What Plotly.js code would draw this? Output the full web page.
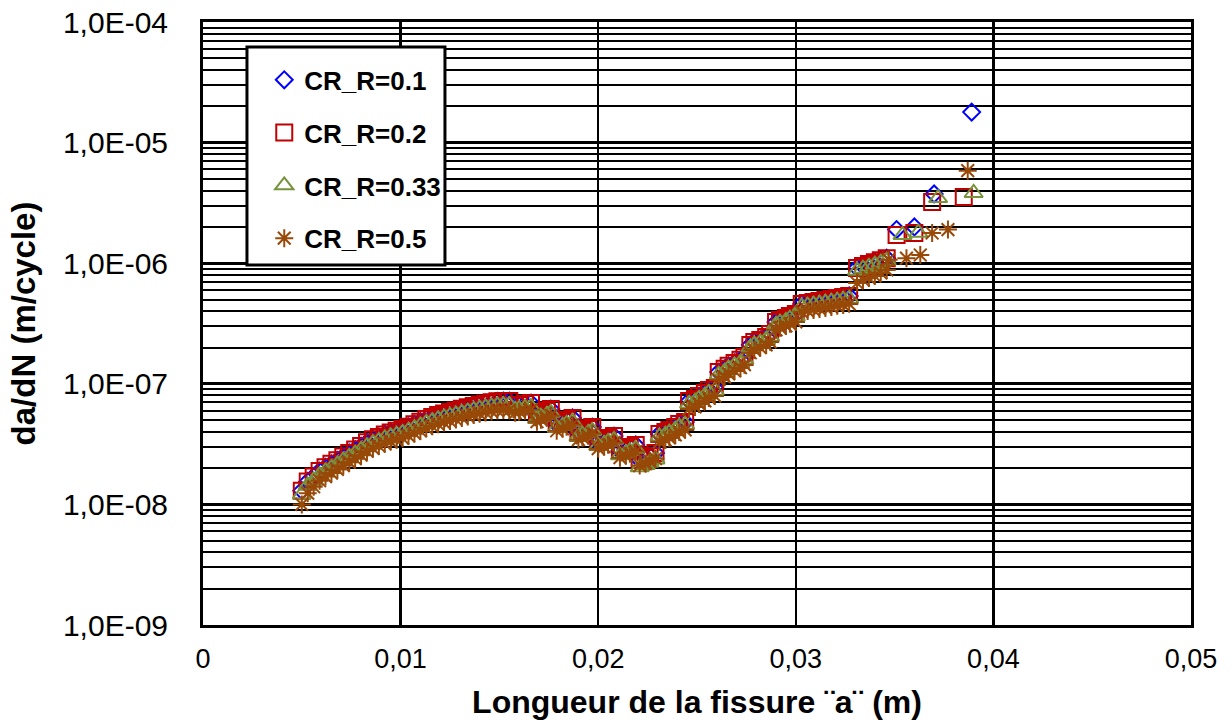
<!DOCTYPE html>
<html>
<head>
<meta charset="utf-8">
<script src="https://cdn.plot.ly/plotly-3.0.1.min.js"></script>
<style>
  html, body { margin: 0; padding: 0; background: #ffffff; }
  #chart { width: 1232px; height: 724px; }
</style>
</head>
<body>
<div id="chart"></div>
<script>
// Crack length a (m) shared by the four load-ratio runs up to a = 0.0346 m
const crackLength = [
  0.0050, 0.0053, 0.0056, 0.0059, 0.0062, 0.0065, 0.0068, 0.0071, 0.0074, 0.0077,
  0.0080, 0.0083, 0.0086, 0.0089, 0.0092, 0.0095, 0.0098, 0.0101, 0.0104, 0.0107,
  0.0110, 0.0113, 0.0116, 0.0119, 0.0122, 0.0125, 0.0128, 0.0131, 0.0134, 0.0137,
  0.0140, 0.0143, 0.0146, 0.0149, 0.0152, 0.0155,
  0.0158, 0.0160, 0.0163, 0.0166, 0.0169, 0.0171, 0.0174, 0.0176,
  0.0179, 0.0182, 0.0184, 0.0187, 0.0190, 0.0192, 0.0195, 0.0197,
  0.0200, 0.0203, 0.0205, 0.0208, 0.0211, 0.0214, 0.0216, 0.0219,
  0.0221, 0.0224, 0.0226, 0.0229,
  0.0231, 0.0234, 0.0236, 0.0239, 0.0241, 0.0244,
  0.0246, 0.0249, 0.0251, 0.0254, 0.0256, 0.0259,
  0.0261, 0.0264, 0.0266, 0.0269, 0.0272, 0.0274,
  0.0277, 0.0279, 0.0282, 0.0285, 0.0287,
  0.0290, 0.0292, 0.0295, 0.0297, 0.0300,
  0.0303, 0.0306, 0.0309, 0.0312, 0.0315, 0.0318, 0.0321, 0.0324, 0.0327,
  0.0331, 0.0334, 0.0337, 0.0340, 0.0343, 0.0346
];

// da/dN (m/cycle) on the shared crack lengths
const dadnR01 = [
  1.30e-8, 1.55e-8, 1.70e-8, 1.89e-8, 2.03e-8, 2.17e-8, 2.32e-8, 2.50e-8, 2.67e-8, 2.85e-8,
  3.05e-8, 3.28e-8, 3.47e-8, 3.63e-8, 3.80e-8, 3.95e-8, 4.08e-8, 4.22e-8, 4.40e-8, 4.62e-8,
  4.85e-8, 5.10e-8, 5.30e-8, 5.50e-8, 5.68e-8, 5.85e-8, 6.02e-8, 6.20e-8, 6.38e-8, 6.55e-8,
  6.72e-8, 6.88e-8, 7.02e-8, 7.15e-8, 7.20e-8, 7.20e-8,
  6.55e-8, 6.67e-8, 6.80e-8, 6.93e-8, 5.51e-8, 5.73e-8, 5.95e-8, 6.18e-8,
  4.64e-8, 4.82e-8, 5.01e-8, 5.21e-8, 3.91e-8, 4.06e-8, 4.22e-8, 4.38e-8,
  3.29e-8, 3.42e-8, 3.55e-8, 3.69e-8, 2.77e-8, 2.88e-8, 2.99e-8, 3.11e-8,
  2.33e-8, 2.42e-8, 2.52e-8, 2.67e-8,
  3.84e-8, 3.98e-8, 4.14e-8, 4.38e-8, 4.64e-8, 4.82e-8,
  7.20e-8, 7.48e-8, 7.92e-8, 8.39e-8, 8.88e-8, 9.23e-8,
  1.25e-7, 1.33e-7, 1.41e-7, 1.49e-7, 1.58e-7, 1.67e-7,
  2.10e-7, 2.22e-7, 2.31e-7, 2.44e-7, 2.59e-7,
  3.25e-7, 3.38e-7, 3.51e-7, 3.65e-7, 3.79e-7,
  4.59e-7, 4.68e-7, 4.77e-7, 4.86e-7, 4.95e-7, 5.05e-7, 5.15e-7, 5.24e-7, 5.35e-7,
  9.13e-7, 9.48e-7, 9.85e-7, 1.02e-6, 1.06e-6, 1.10e-6
];
const dadnR02 = [
  1.30e-8, 1.55e-8, 1.70e-8, 1.89e-8, 2.03e-8, 2.17e-8, 2.32e-8, 2.50e-8, 2.67e-8, 2.85e-8,
  3.05e-8, 3.28e-8, 3.47e-8, 3.63e-8, 3.80e-8, 3.95e-8, 4.08e-8, 4.22e-8, 4.40e-8, 4.62e-8,
  4.85e-8, 5.10e-8, 5.30e-8, 5.50e-8, 5.68e-8, 5.85e-8, 6.02e-8, 6.20e-8, 6.38e-8, 6.55e-8,
  6.72e-8, 6.88e-8, 7.02e-8, 7.15e-8, 7.20e-8, 7.20e-8,
  6.55e-8, 6.67e-8, 6.80e-8, 6.93e-8, 5.51e-8, 5.73e-8, 5.95e-8, 6.18e-8,
  4.64e-8, 4.82e-8, 5.01e-8, 5.21e-8, 3.91e-8, 4.06e-8, 4.22e-8, 4.38e-8,
  3.29e-8, 3.42e-8, 3.55e-8, 3.69e-8, 2.77e-8, 2.88e-8, 2.99e-8, 3.11e-8,
  2.33e-8, 2.42e-8, 2.52e-8, 2.67e-8,
  3.84e-8, 3.98e-8, 4.14e-8, 4.38e-8, 4.64e-8, 4.82e-8,
  7.20e-8, 7.48e-8, 7.92e-8, 8.39e-8, 8.88e-8, 9.23e-8,
  1.25e-7, 1.33e-7, 1.41e-7, 1.49e-7, 1.58e-7, 1.67e-7,
  2.10e-7, 2.22e-7, 2.31e-7, 2.44e-7, 2.59e-7,
  3.25e-7, 3.38e-7, 3.51e-7, 3.65e-7, 3.79e-7,
  4.59e-7, 4.68e-7, 4.77e-7, 4.86e-7, 4.95e-7, 5.05e-7, 5.15e-7, 5.24e-7, 5.35e-7,
  9.13e-7, 9.48e-7, 9.85e-7, 1.02e-6, 1.06e-6, 1.10e-6
];
const dadnR033 = [
  1.21e-8, 1.44e-8, 1.58e-8, 1.75e-8, 1.88e-8, 2.01e-8, 2.15e-8, 2.32e-8, 2.48e-8, 2.64e-8,
  2.83e-8, 3.04e-8, 3.22e-8, 3.37e-8, 3.52e-8, 3.66e-8, 3.78e-8, 3.91e-8, 4.08e-8, 4.28e-8,
  4.50e-8, 4.73e-8, 4.91e-8, 5.10e-8, 5.27e-8, 5.42e-8, 5.58e-8, 5.75e-8, 5.91e-8, 6.07e-8,
  6.23e-8, 6.38e-8, 6.51e-8, 6.63e-8, 6.67e-8, 6.70e-8,
  6.09e-8, 6.20e-8, 6.32e-8, 6.44e-8, 5.12e-8, 5.33e-8, 5.53e-8, 5.75e-8,
  4.32e-8, 4.48e-8, 4.66e-8, 4.85e-8, 3.64e-8, 3.78e-8, 3.92e-8, 4.07e-8,
  3.06e-8, 3.18e-8, 3.30e-8, 3.43e-8, 2.55e-8, 2.66e-8, 2.77e-8, 2.89e-8,
  2.03e-8, 2.12e-8, 2.22e-8, 2.36e-8,
  3.65e-8, 3.78e-8, 3.93e-8, 4.16e-8, 4.41e-8, 4.58e-8,
  6.84e-8, 7.11e-8, 7.52e-8, 7.97e-8, 8.44e-8, 8.77e-8,
  1.19e-7, 1.26e-7, 1.34e-7, 1.42e-7, 1.50e-7, 1.59e-7,
  2.00e-7, 2.11e-7, 2.19e-7, 2.32e-7, 2.46e-7,
  3.09e-7, 3.21e-7, 3.33e-7, 3.47e-7, 3.60e-7,
  4.36e-7, 4.45e-7, 4.53e-7, 4.62e-7, 4.70e-7, 4.80e-7, 4.89e-7, 4.98e-7, 5.08e-7,
  8.67e-7, 9.01e-7, 9.36e-7, 9.72e-7, 1.01e-6, 1.05e-6
];
const dadnR05 = [
  1.00e-8, 1.24e-8, 1.40e-8, 1.57e-8, 1.70e-8, 1.82e-8, 1.95e-8, 2.10e-8, 2.24e-8, 2.39e-8,
  2.56e-8, 2.76e-8, 2.91e-8, 3.05e-8, 3.19e-8, 3.32e-8, 3.43e-8, 3.54e-8, 3.70e-8, 3.88e-8,
  4.07e-8, 4.28e-8, 4.45e-8, 4.62e-8, 4.77e-8, 4.91e-8, 5.06e-8, 5.21e-8, 5.36e-8, 5.50e-8,
  5.64e-8, 5.78e-8, 5.90e-8, 6.01e-8, 6.05e-8, 6.05e-8,
  5.76e-8, 5.87e-8, 5.98e-8, 6.10e-8, 4.85e-8, 5.04e-8, 5.24e-8, 5.44e-8,
  4.08e-8, 4.24e-8, 4.41e-8, 4.58e-8, 3.44e-8, 3.57e-8, 3.71e-8, 3.85e-8,
  2.90e-8, 3.01e-8, 3.12e-8, 3.25e-8, 2.44e-8, 2.53e-8, 2.63e-8, 2.74e-8,
  2.10e-8, 2.18e-8, 2.27e-8, 2.40e-8,
  3.30e-8, 3.42e-8, 3.56e-8, 3.77e-8, 3.99e-8, 4.15e-8,
  6.19e-8, 6.43e-8, 6.81e-8, 7.22e-8, 7.64e-8, 7.94e-8,
  1.08e-7, 1.14e-7, 1.21e-7, 1.28e-7, 1.36e-7, 1.44e-7,
  1.81e-7, 1.91e-7, 1.99e-7, 2.10e-7, 2.23e-7,
  2.80e-7, 2.91e-7, 3.02e-7, 3.14e-7, 3.26e-7,
  3.95e-7, 4.02e-7, 4.10e-7, 4.18e-7, 4.26e-7, 4.34e-7, 4.43e-7, 4.51e-7, 4.60e-7,
  6.85e-7, 7.26e-7, 7.54e-7, 7.83e-7, 8.29e-7, 8.78e-7
];

// Last points of each run, where the crack lengths diverge
const tailLengthR01 = [0.0351, 0.0360, 0.0370, 0.0389];
const tailDadnR01   = [1.90e-6, 2.00e-6, 3.75e-6, 1.79e-5];
const tailLengthR02 = [0.0351, 0.0360, 0.0369, 0.0385];
const tailDadnR02   = [1.71e-6, 1.78e-6, 3.22e-6, 3.54e-6];
const tailLengthR033 = [0.0354, 0.0362, 0.0372, 0.0390];
const tailDadnR033   = [1.71e-6, 1.79e-6, 3.47e-6, 3.82e-6];
const tailLengthR05 = [0.0347, 0.0356, 0.0363, 0.0369, 0.0377, 0.0387];
const tailDadnR05   = [1.07e-6, 1.10e-6, 1.17e-6, 1.78e-6, 1.90e-6, 5.85e-6];

const seriesNames = ['CR_R=0.1', 'CR_R=0.2', 'CR_R=0.33', 'CR_R=0.5'];

const xTickVals = [0, 0.01, 0.02, 0.03, 0.04, 0.05];
const xTickText = ['0', '0,01', '0,02', '0,03', '0,04', '0,05'];
const yTickVals = [1e-9, 1e-8, 1e-7, 1e-6, 1e-5, 1e-4];
const yTickText = ['1,0E-09', '1,0E-08', '1,0E-07', '1,0E-06', '1,0E-05', '1,0E-04'];

const FONT = 'Liberation Sans, Arial, sans-serif';

function run(name, xs, ys, symbol, color, size, group) {
  return {
    type: 'scatter',
    mode: 'markers',
    name: name,
    legendgroup: group,
    x: xs,
    y: ys,
    marker: { symbol: symbol, size: size, color: color, line: { color: color, width: 2 } },
    hoverinfo: 'x+y+name'
  };
}

const traces = [
  run(seriesNames[0], crackLength.concat(tailLengthR01), dadnR01.concat(tailDadnR01), 'diamond-open', '#0000FF', 13, 'g1'),
  run(seriesNames[1], crackLength.concat(tailLengthR02), dadnR02.concat(tailDadnR02), 'square-open', '#C00000', 16, 'g2'),
  run(seriesNames[2], crackLength.concat(tailLengthR033), dadnR033.concat(tailDadnR033), 'triangle-up-open', '#77933C', 16, 'g3'),
  run(seriesNames[3], crackLength.concat(tailLengthR05), dadnR05.concat(tailDadnR05), 'asterisk-open', '#984807', 15, 'g4')
];

const layout = {
  width: 1232,
  height: 724,
  paper_bgcolor: '#ffffff',
  plot_bgcolor: '#ffffff',
  margin: { l: 203, r: 41, t: 22, b: 99 },
  showlegend: true,
  font: { family: FONT, color: '#000000' },
  xaxis: {
    range: [0, 0.05],
    tickmode: 'array',
    tickvals: xTickVals,
    ticktext: xTickText,
    ticks: '',
    ticklabelstandoff: 8,
    tickfont: { family: FONT, size: 27, color: '#000000' },
    showgrid: true,
    gridcolor: '#000000',
    gridwidth: 2.5,
    zeroline: false,
    showline: true,
    mirror: true,
    linecolor: '#000000',
    linewidth: 3,
    title: {
      text: 'Longueur de la fissure ¨a¨ (m)',
      font: { family: FONT, size: 32, weight: 'bold', color: '#000000' },
      standoff: 18
    }
  },
  yaxis: {
    type: 'log',
    range: [-9, -4],
    tickmode: 'array',
    tickvals: yTickVals,
    ticktext: yTickText,
    ticks: '',
    ticklabelstandoff: 26,
    tickfont: { family: FONT, size: 30, color: '#000000' },
    showgrid: true,
    gridcolor: '#000000',
    gridwidth: 3,
    minor: { dtick: 'D1', showgrid: true, gridcolor: '#000000', gridwidth: 2, ticks: '' },
    zeroline: false,
    showline: true,
    mirror: true,
    linecolor: '#000000',
    linewidth: 3,
    title: {
      text: 'da/dN (m/cycle)',
      font: { family: FONT, size: 33, weight: 'bold', color: '#000000' },
      standoff: 18
    }
  },
  // legend frame
  shapes: [{
    type: 'rect',
    xref: 'paper', yref: 'paper',
    x0: 0.0445, x1: 0.2449, y0: 0.597, y1: 0.9585,
    fillcolor: '#ffffff',
    line: { color: '#000000', width: 3 },
    layer: 'above'
  }],
  legend: {
    x: 0.062,
    y: 0.943,
    xanchor: 'left',
    yanchor: 'top',
    bgcolor: 'rgba(0,0,0,0)',
    borderwidth: 0,
    font: { family: FONT, size: 26, weight: 'bold', color: '#000000' },
    tracegroupgap: 16,
    itemwidth: 30
  }
};

Plotly.newPlot('chart', traces, layout, { displayModeBar: false, staticPlot: true });
</script>
</body>
</html>
